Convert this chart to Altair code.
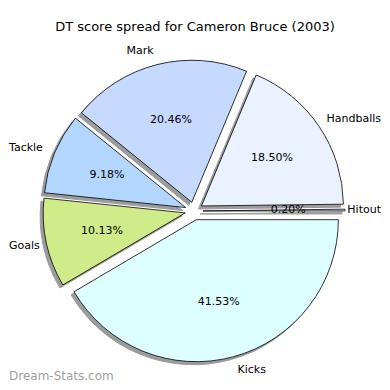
import math
import altair as alt
import pandas as pd

# ---- data ----
categories = ["Kicks", "Goals", "Tackle", "Mark", "Handballs", "Hitout"]
values = [41.53, 10.13, 9.18, 20.46, 18.50, 0.20]
colors = ["#DDFFFF", "#D0EB8A", "#B3D6FF", "#C6D9FF", "#EBF2FF", "#E0E0FF"]
title_text = "DT score spread for Cameron Bruce (2003)"
watermark = "Dream-Stats.com"

df = pd.DataFrame({"cat": categories, "value": values, "idx": list(range(len(categories)))})

# ---- layout constants (pixels, plot coordinates) ----
W, H = 374, 338
CX, CY = 186, 167      # pie centre
R = 142                # radius
D = 9                  # explode distance
LR = 1.1 * R           # label distance
PR = 0.6 * R           # percentage distance
SH = 3                 # shadow offset
CHW = 6.0              # approx. label character width (for edge clamping)
FONT = "DejaVu Sans"

base = (
    alt.Chart(df)
    .transform_window(cum="sum(value)", sort=[alt.SortField("idx")], frame=[None, 0])
    .transform_joinaggregate(total="sum(value)")
    .transform_calculate(
        t0="PI/2 + 2*PI*(datum.cum - datum.value)/datum.total",
        t1="PI/2 + 2*PI*datum.cum/datum.total",
    )
    .transform_calculate(a="(datum.t0 + datum.t1)/2")
    .transform_calculate(sx="sin(datum.a)", sy="-cos(datum.a)")
    .transform_calculate(
        cx=f"{CX} + {D}*datum.sx",
        cy=f"{CY} + {D}*datum.sy",
    )
    .transform_calculate(
        shx=f"datum.cx - {SH}",
        shy=f"datum.cy + {SH}",
        lx=f"datum.cx + {LR}*datum.sx",
        ly=f"datum.cy + {LR}*datum.sy",
        px=f"datum.cx + {PR}*datum.sx",
        py=f"datum.cy + {PR}*datum.sy",
        pct="format(datum.value, '.2f') + '%'",
    )
    .transform_calculate(
        lend=f"datum.lx + length(datum.cat)*{CHW}",
        lbeg=f"datum.lx - length(datum.cat)*{CHW}",
    )
)

shadow = base.mark_arc(radius=R, fill="#9C9C9C", stroke="#9C9C9C", strokeWidth=1).encode(
    theta=alt.Theta("t0:Q", scale=None),
    theta2="t1:Q",
    x=alt.X("shx:Q", scale=None),
    y=alt.Y("shy:Q", scale=None),
)

wedges = base.mark_arc(radius=R, stroke="black", strokeWidth=0.8).encode(
    theta=alt.Theta("t0:Q", scale=None),
    theta2="t1:Q",
    x=alt.X("cx:Q", scale=None),
    y=alt.Y("cy:Q", scale=None),
    fill=alt.Fill("cat:N", scale=alt.Scale(domain=categories, range=colors), legend=None),
)

txt = dict(baseline="middle", font=FONT, fontSize=11, color="black")

# right-hand labels
labels_r = base.transform_filter(f"datum.sx > 0 && datum.lend <= {W}").mark_text(
    align="left", **txt
).encode(x=alt.X("lx:Q", scale=None), y=alt.Y("ly:Q", scale=None), text="cat:N")
labels_r_edge = base.transform_filter(f"datum.sx > 0 && datum.lend > {W}").mark_text(
    align="right", **txt
).encode(x=alt.value(W - 1), y=alt.Y("ly:Q", scale=None), text="cat:N")

# left-hand labels
labels_l = base.transform_filter("datum.sx <= 0 && datum.lbeg >= 0").mark_text(
    align="right", **txt
).encode(x=alt.X("lx:Q", scale=None), y=alt.Y("ly:Q", scale=None), text="cat:N")
labels_l_edge = base.transform_filter("datum.sx <= 0 && datum.lbeg < 0").mark_text(
    align="left", **txt
).encode(x=alt.value(1), y=alt.Y("ly:Q", scale=None), text="cat:N")

pcts = base.mark_text(align="center", **txt).encode(
    x=alt.X("px:Q", scale=None), y=alt.Y("py:Q", scale=None), text="pct:N"
)

wm = alt.Chart(pd.DataFrame({"t": [watermark]})).mark_text(
    align="left", baseline="alphabetic", font=FONT, fontSize=12, color="#A0A0A0"
).encode(x=alt.value(1), y=alt.value(H - 2), text="t:N")

chart = (
    alt.layer(shadow, wedges, labels_r, labels_r_edge, labels_l, labels_l_edge, pcts, wm)
    .properties(
        width=W,
        height=H,
        autosize=alt.AutoSizeParams(type="none"),
        padding={"left": 0, "right": 0, "top": 36, "bottom": 0},
        title=alt.TitleParams(
            text=title_text, font=FONT, fontSize=13, fontWeight="normal",
            color="black", anchor="middle", dx=0, offset=10,
        ),
    )
    .configure_view(stroke=None)
)

chart.save("out.html", embed_options={"renderer": "svg", "actions": False})
